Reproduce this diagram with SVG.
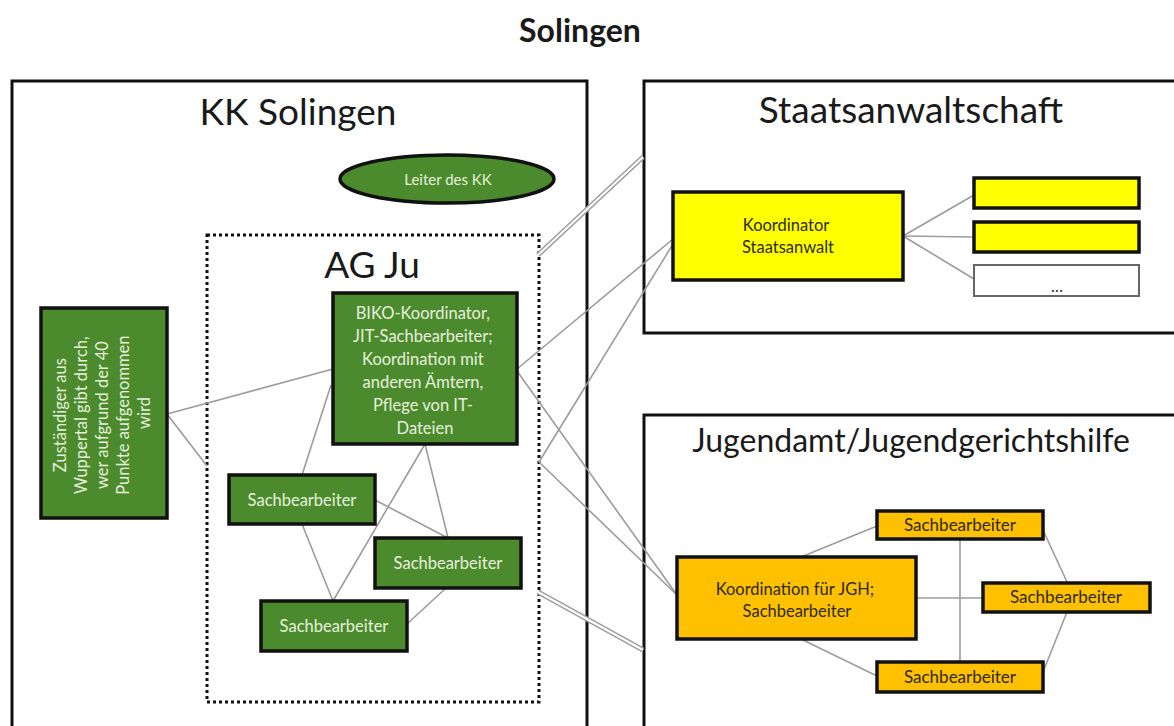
<svg xmlns="http://www.w3.org/2000/svg" width="1174" height="726" viewBox="0 0 1174 726">
  <style>
    text { font-family: Lato, "Open Sans", "Liberation Sans", sans-serif; }
    .title { font-size: 32px; font-weight: bold; fill: #1a1a1a; text-anchor: middle; }
    .head { font-size: 37px; fill: #1a1a1a; text-anchor: middle; }
    .head2 { font-size: 32px; fill: #1a1a1a; text-anchor: middle; }
    .frame { fill: none; stroke: #111; stroke-width: 3; }
    .dotted { fill: none; stroke: #111; stroke-width: 3; stroke-dasharray: 3 3; }
    .green { fill: #4b8b2e; stroke: #111; stroke-width: 3.5; }
    .yellow { fill: #ffff00; stroke: #111; stroke-width: 3.5; }
    .white { fill: #fff; stroke: #666; stroke-width: 2; }
    .orange { fill: #ffc000; stroke: #111; stroke-width: 3.5; }
    .gl { font-size: 16.5px; fill: #e8f0dc; text-anchor: middle; }
    .dl { font-size: 16.5px; fill: #2e2a10; text-anchor: middle; }
    .sb { font-size: 17px; }
    .conn line { stroke: #9c9c9c; stroke-width: 1.6; fill: none; }
    .conn .dbl-out { stroke: #9c9c9c; stroke-width: 5; }
    .conn .dbl-in { stroke: #ffffff; stroke-width: 2; }
  </style>

  <rect width="1174" height="726" fill="#ffffff"/>

  <text class="title" x="580" y="42">Solingen</text>

  <!-- organisation frames -->
  <g id="kk-solingen">
    <rect class="frame" x="12" y="81" width="575" height="670"/>
    <text class="head" x="298" y="125">KK Solingen</text>
  </g>
  <g id="staatsanwaltschaft">
    <rect class="frame" x="644" y="81" width="560" height="252"/>
    <text class="head" x="911" y="123">Staatsanwaltschaft</text>
  </g>
  <g id="jugendamt">
    <rect class="frame" x="644" y="415" width="560" height="340"/>
    <text class="head2" x="911" y="452">Jugendamt/Jugendgerichtshilfe</text>
  </g>
  <g id="ag-ju">
    <rect class="dotted" x="207" y="235" width="332" height="467"/>
    <text class="head" x="372" y="278">AG Ju</text>
  </g>

  <!-- connectors -->
  <g id="connectors" class="conn">
    <!-- double links between the offices -->
    <line class="dbl-out" x1="538" y1="255" x2="643" y2="157"/>
    <line class="dbl-in" x1="538" y1="255" x2="643" y2="157"/>
    <line class="dbl-out" x1="538" y1="592" x2="643" y2="650"/>
    <line class="dbl-in" x1="538" y1="592" x2="643" y2="650"/>

    <!-- KK Solingen -->
    <line x1="167" y1="414" x2="333" y2="369"/>
    <line x1="167" y1="414" x2="207" y2="466"/>
    <line x1="331" y1="385" x2="302" y2="475"/>
    <line x1="425" y1="444" x2="333" y2="601"/>
    <line x1="425" y1="444" x2="448" y2="538"/>
    <line x1="375" y1="500" x2="448" y2="538"/>
    <line x1="302" y1="524" x2="333" y2="601"/>
    <line x1="446" y1="588" x2="407" y2="624"/>

    <!-- AG Ju to Staatsanwaltschaft / JGH -->
    <line x1="517" y1="369" x2="673" y2="239"/>
    <line x1="517" y1="371" x2="677" y2="595"/>
    <line x1="539" y1="462" x2="673" y2="244"/>
    <line x1="539" y1="462" x2="677" y2="595"/>

    <!-- Staatsanwaltschaft -->
    <line x1="903" y1="236" x2="974" y2="195"/>
    <line x1="903" y1="236" x2="974" y2="237"/>
    <line x1="903" y1="236" x2="974" y2="279"/>

    <!-- Jugendamt -->
    <line x1="801" y1="557" x2="877" y2="526"/>
    <line x1="801" y1="639" x2="877" y2="676"/>
    <line x1="916" y1="598" x2="983" y2="598"/>
    <line x1="960" y1="539" x2="960" y2="662"/>
    <line x1="1043" y1="530" x2="1067" y2="582"/>
    <line x1="1043" y1="672" x2="1067" y2="612"/>
  </g>

  <!-- KK Solingen nodes -->
  <g id="leiter">
    <ellipse class="green" cx="447" cy="179" rx="107" ry="24"/>
    <text class="gl" x="448" y="185" style="font-size:15px">Leiter des KK</text>
  </g>
  <g id="zustaendiger">
    <rect class="green" x="41" y="308" width="126" height="210"/>
    <text class="gl" transform="translate(104 413) rotate(-90)">
      <tspan x="0" y="-38">Zuständiger aus</tspan>
      <tspan x="0" y="-17">Wuppertal gibt durch,</tspan>
      <tspan x="0" y="4">wer aufgrund der 40</tspan>
      <tspan x="0" y="25">Punkte aufgenommen</tspan>
      <tspan x="0" y="46">wird</tspan>
    </text>
  </g>
  <g id="biko">
    <rect class="green" x="333" y="293" width="184" height="151"/>
    <text class="gl">
      <tspan x="425" y="319">BIKO-Koordinator,</tspan>
      <tspan x="425" y="342">JIT-Sachbearbeiter;</tspan>
      <tspan x="425" y="365">Koordination mit</tspan>
      <tspan x="425" y="388">anderen Ämtern,</tspan>
      <tspan x="425" y="411">Pflege von IT-</tspan>
      <tspan x="425" y="434">Dateien</tspan>
    </text>
  </g>
  <g id="sb-1">
    <rect class="green" x="229" y="475" width="146" height="49"/>
    <text class="gl" x="302" y="506">Sachbearbeiter</text>
  </g>
  <g id="sb-2">
    <rect class="green" x="375" y="538" width="146" height="50"/>
    <text class="gl" x="448" y="569">Sachbearbeiter</text>
  </g>
  <g id="sb-3">
    <rect class="green" x="261" y="601" width="146" height="50"/>
    <text class="gl" x="334" y="632">Sachbearbeiter</text>
  </g>

  <!-- Staatsanwaltschaft nodes -->
  <g id="koordinator-sta">
    <rect class="yellow" x="673" y="192" width="230" height="88"/>
    <text class="dl">
      <tspan x="788" y="231">Koordinator</tspan>
      <tspan x="788" y="253">Staatsanwalt</tspan>
    </text>
  </g>
  <g id="sta-1">
    <rect class="yellow" x="974" y="178" width="165" height="30"/>
  </g>
  <g id="sta-2">
    <rect class="yellow" x="974" y="222" width="165" height="30"/>
  </g>
  <g id="sta-more">
    <rect class="white" x="974" y="265" width="165" height="31"/>
    <text class="dl" x="1057" y="292" style="fill:#444;font-size:18px">...</text>
  </g>

  <!-- Jugendamt nodes -->
  <g id="koordination-jgh">
    <rect class="orange" x="677" y="557" width="239" height="82"/>
    <text class="dl">
      <tspan x="797" y="595">Koordination für JGH;</tspan>
      <tspan x="797" y="617">Sachbearbeiter</tspan>
    </text>
  </g>
  <g id="jgh-sb-1">
    <rect class="orange" x="877" y="511" width="166" height="28"/>
    <text class="dl sb" x="960" y="531">Sachbearbeiter</text>
  </g>
  <g id="jgh-sb-2">
    <rect class="orange" x="983" y="583" width="167" height="29"/>
    <text class="dl sb" x="1066" y="603">Sachbearbeiter</text>
  </g>
  <g id="jgh-sb-3">
    <rect class="orange" x="877" y="662" width="166" height="30"/>
    <text class="dl sb" x="960" y="683">Sachbearbeiter</text>
  </g>
</svg>
